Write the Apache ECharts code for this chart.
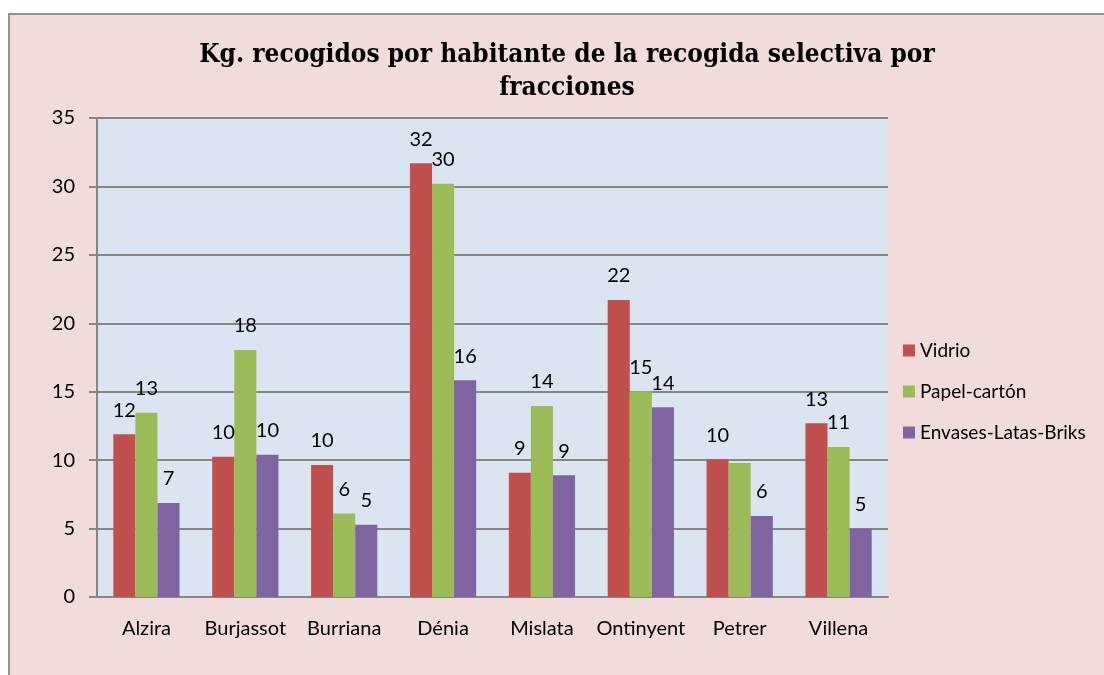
<!DOCTYPE html>
<html>
<head>
<meta charset="utf-8">
<script src="https://cdn.jsdelivr.net/npm/echarts@6/dist/echarts.min.js"></script>
<style>
  html, body { margin: 0; padding: 0; background: #fff; }
  #charts { width: 1104px; height: 675px; }
</style>
</head>
<body>
<div id="charts"></div>
<script>
// Kg por habitante, recogida selectiva
var municipios = ['Alzira', 'Burjassot', 'Burriana', 'Dénia', 'Mislata', 'Ontinyent', 'Petrer', 'Villena'];
var vidrio = [11.9, 10.25, 9.65, 31.7, 9.08, 21.7, 10.06, 12.7];
var papelCarton = [13.47, 18.05, 6.1, 30.2, 13.96, 15.03, 9.79, 10.96];
var envases = [6.87, 10.4, 5.28, 15.83, 8.89, 13.86, 5.92, 4.99];
var yTicks = [0, 5, 10, 15, 20, 25, 30, 35];

var font = 'Lato';
var myChart = echarts.init(document.getElementById('charts'));

// hidden: indices whose label is not shown (overlaps in the original)
function serie(name, data, color, hidden) {
  hidden = hidden || [];
  return {
    name: name,
    type: 'bar',
    data: data.map(function (v, i) {
      return hidden.indexOf(i) >= 0 ? { value: v, label: { show: false } } : v;
    }),
    barGap: '0%',
    barCategoryGap: '33%',
    itemStyle: { color: color },
    label: {
      show: true,
      position: 'top',
      distance: 14,
      fontFamily: font,
      fontSize: 20,
      color: '#000',
      formatter: function (p) { return Math.round(p.value); }
    }
  };
}

var option = {
  animation: false,
  backgroundColor: 'transparent',
  graphic: [{
    type: 'rect',
    z: -10,
    shape: { x: 9, y: 14, width: 1200, height: 700 },
    style: { fill: '#F2DCDB', stroke: '#939393', lineWidth: 2 }
  }],
  title: {
    text: 'Kg. recogidos por habitante de la recogida selectiva por\nfracciones',
    left: 562,
    top: 34,
    textAlign: 'center',
    textStyle: {
      fontFamily: 'DejaVu Serif Condensed',
      fontWeight: 'bold',
      fontSize: 26,
      lineHeight: 33,
      color: '#000'
    }
  },
  legend: {
    orient: 'vertical',
    left: 898,
    top: 336,
    itemWidth: 12,
    itemHeight: 12,
    itemGap: 22,
    icon: 'rect',
    textStyle: { fontFamily: font, fontSize: 19, color: '#000' },
    data: ['Vidrio', 'Papel-cartón', 'Envases-Latas-Briks']
  },
  grid: {
    left: 97,
    top: 118,
    width: 791,
    height: 479,
    show: true,
    backgroundColor: '#DBE5F1',
    borderWidth: 0,
    containLabel: false
  },
  xAxis: {
    type: 'category',
    data: municipios,
    axisLine: { lineStyle: { color: '#868686', width: 2 } },
    axisTick: { show: false },
    axisLabel: { interval: 0, fontFamily: font, fontSize: 20, color: '#000', margin: 22 }
  },
  yAxis: {
    type: 'value',
    min: yTicks[0],
    max: yTicks[yTicks.length - 1],
    interval: 5,
    axisLine: { show: true, lineStyle: { color: '#868686', width: 2 } },
    axisTick: { show: true, length: 8, lineStyle: { color: '#868686', width: 2 } },
    splitLine: { lineStyle: { color: '#868686', width: 2 } },
    axisLabel: { fontFamily: font, fontSize: 20, color: '#000', margin: 22 }
  },
  series: [
    serie('Vidrio', vidrio, '#C0504D'),
    serie('Papel-cartón', papelCarton, '#9BBB59', [6]),
    serie('Envases-Latas-Briks', envases, '#8064A2')
  ]
};

myChart.setOption(option);
</script>
</body>
</html>
